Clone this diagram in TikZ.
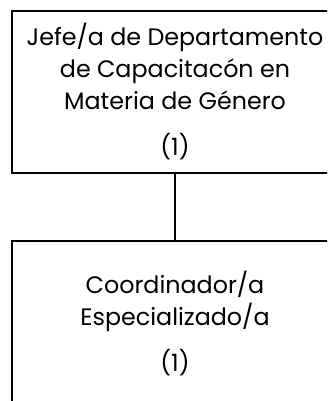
\documentclass[tikz,border=0pt]{standalone}
\usepackage{fontspec}
\setmainfont{Poppins}
\usetikzlibrary{positioning}

\begin{document}
\begin{tikzpicture}[x=1pt, y=-1pt,
    puesto/.style={draw, line width=1.6pt, minimum width=326pt, align=center, font=\fontsize{23.8}{32}\selectfont, inner sep=0pt}]
   % marco
   \useasboundingbox (0,0) rectangle (327,401);
   \clip (0,0) rectangle (327,401);

   % jefe
   \node[puesto, minimum height=162pt] (jefe) at (175,92) {Jefe/a de Departamento\\ de Capacitacón en\\ Materia de Género\\[14pt] (1)};

   % coordinador
   \node[puesto, minimum height=164pt] (coord) at (175,323) {Coordinador/a\\ Especializado/a\\[14pt] (1)};

   \draw[line width=1.6pt] (jefe.south) -- (coord.north);
\end{tikzpicture}
\end{document}
